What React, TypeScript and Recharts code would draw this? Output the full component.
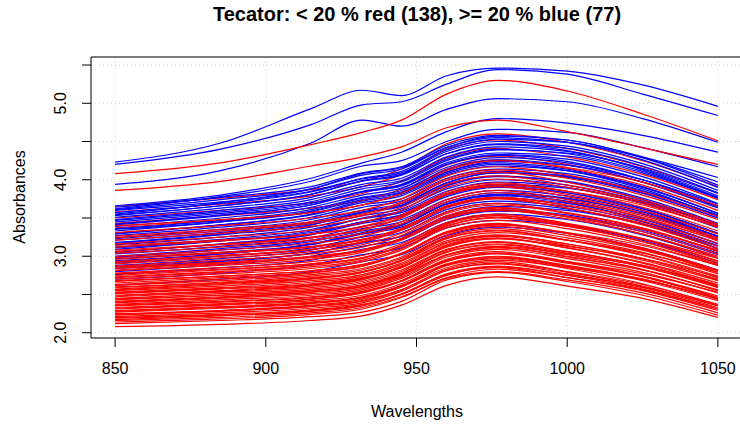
import React from "react";
import { LineChart, Line, XAxis, YAxis, CartesianGrid, ReferenceArea } from "recharts";

const wavelengths = [850, 885, 915, 932, 945, 960, 977, 1000, 1025, 1050];

// fat < 20 %
const redCurves: number[][] = [
  [2.08, 2.11, 2.16, 2.22, 2.36, 2.62, 2.73, 2.61, 2.45, 2.2],
  [2.14, 2.18, 2.24, 2.31, 2.46, 2.71, 2.8, 2.69, 2.52, 2.26],
  [2.17, 2.22, 2.28, 2.35, 2.5, 2.77, 2.87, 2.75, 2.57, 2.31],
  [2.19, 2.23, 2.29, 2.36, 2.51, 2.76, 2.85, 2.72, 2.55, 2.29],
  [2.21, 2.26, 2.32, 2.39, 2.54, 2.81, 2.91, 2.79, 2.61, 2.35],
  [2.23, 2.28, 2.34, 2.41, 2.56, 2.83, 2.93, 2.8, 2.63, 2.37],
  [2.25, 2.29, 2.35, 2.42, 2.56, 2.82, 2.9, 2.77, 2.59, 2.33],
  [2.27, 2.32, 2.38, 2.46, 2.61, 2.88, 2.98, 2.86, 2.68, 2.42],
  [2.29, 2.34, 2.4, 2.47, 2.62, 2.89, 2.99, 2.87, 2.7, 2.44],
  [2.31, 2.36, 2.42, 2.49, 2.64, 2.9, 3.0, 2.88, 2.7, 2.44],
  [2.33, 2.38, 2.44, 2.52, 2.67, 2.94, 3.04, 2.92, 2.74, 2.48],
  [2.35, 2.4, 2.46, 2.53, 2.68, 2.95, 3.04, 2.91, 2.73, 2.46],
  [2.37, 2.43, 2.49, 2.56, 2.71, 2.99, 3.09, 2.97, 2.79, 2.52],
  [2.39, 2.45, 2.51, 2.58, 2.73, 3.01, 3.11, 2.99, 2.82, 2.56],
  [2.41, 2.47, 2.53, 2.6, 2.75, 3.02, 3.12, 3.0, 2.82, 2.55],
  [2.43, 2.49, 2.55, 2.63, 2.78, 3.06, 3.16, 3.04, 2.86, 2.59],
  [2.45, 2.51, 2.57, 2.65, 2.8, 3.08, 3.18, 3.06, 2.88, 2.61],
  [2.47, 2.53, 2.59, 2.67, 2.82, 3.09, 3.19, 3.06, 2.88, 2.6],
  [2.49, 2.55, 2.62, 2.7, 2.85, 3.13, 3.23, 3.11, 2.92, 2.65],
  [2.51, 2.57, 2.63, 2.71, 2.87, 3.15, 3.26, 3.14, 2.95, 2.68],
  [2.53, 2.59, 2.66, 2.74, 2.89, 3.17, 3.27, 3.16, 2.97, 2.69],
  [2.55, 2.61, 2.68, 2.76, 2.91, 3.18, 3.28, 3.16, 2.97, 2.7],
  [2.57, 2.64, 2.71, 2.79, 2.94, 3.23, 3.33, 3.21, 3.02, 2.74],
  [2.6, 2.66, 2.74, 2.82, 2.97, 3.25, 3.36, 3.24, 3.05, 2.77],
  [2.62, 2.68, 2.76, 2.84, 2.99, 3.28, 3.39, 3.27, 3.08, 2.81],
  [2.65, 2.72, 2.79, 2.87, 3.03, 3.31, 3.41, 3.3, 3.11, 2.82],
  [2.67, 2.74, 2.81, 2.89, 3.04, 3.32, 3.42, 3.3, 3.1, 2.81],
  [2.7, 2.77, 2.84, 2.93, 3.08, 3.37, 3.47, 3.36, 3.16, 2.88],
  [2.72, 2.79, 2.86, 2.95, 3.1, 3.39, 3.5, 3.39, 3.19, 2.91],
  [2.75, 2.82, 2.9, 2.98, 3.14, 3.42, 3.53, 3.42, 3.22, 2.93],
  [2.78, 2.85, 2.93, 3.01, 3.16, 3.44, 3.55, 3.43, 3.23, 2.94],
  [2.81, 2.88, 2.96, 3.05, 3.21, 3.49, 3.6, 3.49, 3.29, 3.0],
  [2.84, 2.91, 2.99, 3.08, 3.23, 3.52, 3.63, 3.52, 3.32, 3.03],
  [2.87, 2.95, 3.03, 3.12, 3.27, 3.56, 3.67, 3.56, 3.36, 3.06],
  [2.9, 2.98, 3.06, 3.15, 3.3, 3.58, 3.69, 3.57, 3.37, 3.07],
  [2.93, 3.01, 3.09, 3.18, 3.34, 3.63, 3.75, 3.63, 3.43, 3.13],
  [2.96, 3.04, 3.12, 3.21, 3.36, 3.66, 3.77, 3.66, 3.46, 3.17],
  [3.0, 3.08, 3.17, 3.26, 3.42, 3.71, 3.83, 3.71, 3.51, 3.2],
  [3.04, 3.12, 3.21, 3.3, 3.45, 3.74, 3.86, 3.74, 3.53, 3.22],
  [3.08, 3.16, 3.25, 3.35, 3.51, 3.81, 3.92, 3.81, 3.6, 3.29],
  [3.12, 3.2, 3.29, 3.39, 3.54, 3.84, 3.96, 3.85, 3.64, 3.33],
  [3.16, 3.25, 3.34, 3.44, 3.6, 3.9, 4.01, 3.9, 3.69, 3.38],
  [3.21, 3.3, 3.39, 3.49, 3.64, 3.94, 4.05, 3.93, 3.71, 3.4],
  [3.26, 3.35, 3.45, 3.55, 3.71, 4.01, 4.13, 4.02, 3.8, 3.48],
  [3.31, 3.4, 3.5, 3.6, 3.75, 4.05, 4.17, 4.06, 3.84, 3.52],
  [3.37, 3.47, 3.57, 3.67, 3.83, 4.14, 4.26, 4.15, 3.93, 3.6],
  [3.43, 3.53, 3.63, 3.73, 3.88, 4.19, 4.31, 4.2, 3.97, 3.65],
  [3.5, 3.6, 3.7, 3.82, 3.98, 4.29, 4.41, 4.3, 4.07, 3.74],
  [3.58, 3.68, 3.79, 3.91, 4.07, 4.4, 4.52, 4.41, 4.17, 3.83],
  [3.65, 3.76, 3.87, 3.98, 4.14, 4.47, 4.6, 4.49, 4.25, 3.91],
  [2.12, 2.16, 2.21, 2.27, 2.41, 2.69, 2.79, 2.67, 2.49, 2.23],
  [2.16, 2.2, 2.26, 2.33, 2.47, 2.72, 2.83, 2.72, 2.56, 2.31],
  [2.2, 2.24, 2.3, 2.37, 2.5, 2.75, 2.86, 2.76, 2.6, 2.36],
  [2.24, 2.29, 2.36, 2.44, 2.6, 2.88, 2.97, 2.84, 2.64, 2.36],
  [2.28, 2.33, 2.39, 2.46, 2.6, 2.85, 2.95, 2.85, 2.69, 2.45],
  [2.32, 2.37, 2.44, 2.52, 2.68, 2.96, 3.06, 2.93, 2.74, 2.46],
  [2.36, 2.41, 2.47, 2.54, 2.68, 2.93, 3.03, 2.93, 2.77, 2.53],
  [2.4, 2.46, 2.53, 2.61, 2.77, 3.05, 3.15, 3.02, 2.83, 2.55],
  [2.44, 2.49, 2.55, 2.62, 2.76, 3.02, 3.13, 3.03, 2.87, 2.63],
  [2.48, 2.54, 2.61, 2.69, 2.85, 3.14, 3.24, 3.11, 2.91, 2.62],
  [2.52, 2.58, 2.64, 2.72, 2.86, 3.12, 3.23, 3.13, 2.97, 2.73],
  [2.56, 2.63, 2.7, 2.79, 2.95, 3.24, 3.34, 3.21, 3.01, 2.72],
  [2.59, 2.65, 2.72, 2.8, 2.94, 3.2, 3.31, 3.21, 3.04, 2.79],
  [2.63, 2.7, 2.78, 2.87, 3.03, 3.32, 3.43, 3.3, 3.09, 2.79],
  [2.68, 2.74, 2.81, 2.89, 3.03, 3.3, 3.41, 3.31, 3.14, 2.88],
  [2.73, 2.8, 2.88, 2.97, 3.13, 3.42, 3.53, 3.4, 3.19, 2.89],
  [2.77, 2.83, 2.9, 2.98, 3.13, 3.4, 3.51, 3.41, 3.23, 2.97],
  [2.82, 2.9, 2.98, 3.07, 3.23, 3.53, 3.64, 3.51, 3.29, 2.98],
  [2.86, 2.92, 3.0, 3.08, 3.23, 3.5, 3.61, 3.52, 3.35, 3.08],
  [2.92, 3.0, 3.09, 3.19, 3.35, 3.65, 3.76, 3.63, 3.41, 3.1],
  [2.98, 3.05, 3.13, 3.22, 3.37, 3.65, 3.77, 3.67, 3.49, 3.21],
  [3.06, 3.15, 3.24, 3.34, 3.5, 3.8, 3.91, 3.78, 3.56, 3.24],
  [3.14, 3.21, 3.29, 3.38, 3.53, 3.82, 3.94, 3.85, 3.67, 3.38],
  [3.24, 3.33, 3.43, 3.53, 3.69, 3.99, 4.1, 3.97, 3.74, 3.42],
  [3.4, 3.48, 3.57, 3.67, 3.82, 4.12, 4.25, 4.16, 3.97, 3.66],
  [3.86, 3.98, 4.18, 4.3, 4.43, 4.68, 4.78, 4.63, 4.42, 4.2],
  [4.08, 4.22, 4.46, 4.62, 4.78, 5.12, 5.3, 5.16, 4.86, 4.51],
];

// fat >= 20 %
const blueCurves: number[][] = [
  [2.62, 2.7, 2.8, 2.93, 3.02, 3.27, 3.38, 3.3, 3.11, 2.82],
  [2.7, 2.78, 2.89, 3.02, 3.11, 3.37, 3.47, 3.4, 3.21, 2.91],
  [2.76, 2.85, 2.95, 3.09, 3.18, 3.44, 3.55, 3.48, 3.28, 2.98],
  [2.8, 2.89, 3.0, 3.13, 3.22, 3.48, 3.59, 3.52, 3.32, 3.02],
  [2.84, 2.93, 3.04, 3.18, 3.26, 3.51, 3.61, 3.54, 3.34, 3.04],
  [2.86, 2.94, 3.04, 3.17, 3.26, 3.53, 3.65, 3.6, 3.42, 3.13],
  [2.88, 2.97, 3.08, 3.22, 3.31, 3.58, 3.69, 3.62, 3.42, 3.1],
  [2.91, 3.0, 3.11, 3.25, 3.34, 3.61, 3.72, 3.65, 3.45, 3.14],
  [2.93, 3.03, 3.16, 3.31, 3.41, 3.68, 3.79, 3.7, 3.46, 3.1],
  [2.94, 3.03, 3.15, 3.29, 3.38, 3.64, 3.76, 3.69, 3.48, 3.17],
  [2.97, 3.05, 3.16, 3.3, 3.4, 3.68, 3.8, 3.72, 3.5, 3.16],
  [2.99, 3.08, 3.19, 3.33, 3.42, 3.69, 3.81, 3.75, 3.56, 3.26],
  [3.0, 3.1, 3.21, 3.36, 3.45, 3.71, 3.83, 3.76, 3.55, 3.23],
  [3.03, 3.13, 3.24, 3.39, 3.48, 3.74, 3.86, 3.79, 3.58, 3.26],
  [3.05, 3.16, 3.29, 3.45, 3.54, 3.8, 3.91, 3.83, 3.6, 3.26],
  [3.06, 3.16, 3.28, 3.43, 3.52, 3.78, 3.9, 3.83, 3.62, 3.3],
  [3.09, 3.2, 3.33, 3.49, 3.57, 3.82, 3.93, 3.85, 3.63, 3.3],
  [3.11, 3.2, 3.31, 3.45, 3.54, 3.81, 3.94, 3.89, 3.7, 3.41],
  [3.12, 3.22, 3.35, 3.5, 3.59, 3.85, 3.97, 3.9, 3.69, 3.37],
  [3.15, 3.25, 3.38, 3.53, 3.62, 3.88, 4.0, 3.93, 3.72, 3.4],
  [3.17, 3.28, 3.41, 3.57, 3.66, 3.93, 4.05, 3.97, 3.74, 3.39],
  [3.18, 3.29, 3.41, 3.57, 3.65, 3.92, 4.04, 3.98, 3.76, 3.43],
  [3.21, 3.31, 3.43, 3.58, 3.67, 3.96, 4.09, 4.03, 3.82, 3.5],
  [3.23, 3.33, 3.45, 3.6, 3.69, 3.96, 4.09, 4.04, 3.85, 3.54],
  [3.24, 3.35, 3.48, 3.64, 3.72, 3.99, 4.11, 4.05, 3.83, 3.5],
  [3.27, 3.38, 3.51, 3.67, 3.75, 4.02, 4.14, 4.08, 3.86, 3.53],
  [3.29, 3.41, 3.55, 3.72, 3.81, 4.08, 4.2, 4.12, 3.88, 3.52],
  [3.3, 3.41, 3.54, 3.7, 3.79, 4.06, 4.18, 4.12, 3.9, 3.56],
  [3.33, 3.45, 3.59, 3.76, 3.84, 4.1, 4.22, 4.14, 3.91, 3.56],
  [3.35, 3.45, 3.58, 3.74, 3.83, 4.1, 4.24, 4.19, 4.0, 3.68],
  [3.36, 3.47, 3.61, 3.77, 3.86, 4.13, 4.26, 4.19, 3.97, 3.63],
  [3.39, 3.5, 3.64, 3.8, 3.89, 4.16, 4.29, 4.22, 4.0, 3.66],
  [3.41, 3.53, 3.67, 3.84, 3.93, 4.2, 4.32, 4.24, 4.0, 3.64],
  [3.42, 3.54, 3.67, 3.84, 3.92, 4.2, 4.33, 4.27, 4.04, 3.69],
  [3.45, 3.56, 3.69, 3.85, 3.94, 4.22, 4.35, 4.31, 4.09, 3.76],
  [3.47, 3.58, 3.71, 3.88, 3.97, 4.25, 4.39, 4.35, 4.15, 3.82],
  [3.48, 3.6, 3.74, 3.91, 3.99, 4.27, 4.4, 4.34, 4.11, 3.76],
  [3.51, 3.63, 3.77, 3.94, 4.02, 4.3, 4.43, 4.37, 4.14, 3.79],
  [3.53, 3.66, 3.81, 3.99, 4.07, 4.34, 4.46, 4.38, 4.13, 3.77],
  [3.54, 3.66, 3.81, 3.98, 4.06, 4.34, 4.47, 4.41, 4.18, 3.83],
  [3.57, 3.69, 3.84, 4.01, 4.09, 4.37, 4.5, 4.44, 4.21, 3.86],
  [3.6, 3.71, 3.85, 4.02, 4.11, 4.39, 4.53, 4.49, 4.29, 3.97],
  [3.61, 3.74, 3.88, 4.06, 4.14, 4.42, 4.55, 4.49, 4.26, 3.9],
  [3.64, 3.77, 3.91, 4.09, 4.17, 4.45, 4.58, 4.52, 4.29, 3.93],
  [3.55, 3.7, 3.88, 4.08, 4.16, 4.42, 4.57, 4.52, 4.3, 4.03],
  [3.62, 3.78, 3.98, 4.18, 4.25, 4.5, 4.66, 4.62, 4.42, 4.17],
  [3.66, 3.8, 4.02, 4.22, 4.36, 4.63, 4.8, 4.74, 4.58, 4.36],
  [3.94, 4.12, 4.48, 4.78, 4.7, 4.92, 5.06, 5.02, 4.8, 4.49],
  [4.2, 4.4, 4.72, 4.98, 5.02, 5.25, 5.44, 5.38, 5.12, 4.84],
  [4.23, 4.48, 4.93, 5.17, 5.1, 5.36, 5.46, 5.42, 5.24, 4.96],
];

const xTicks = [850, 900, 950, 1000, 1050];
const yTicks = [2, 2.5, 3, 3.5, 4, 4.5, 5, 5.5];

const chartData = wavelengths.map((wl, i) => {
  const row: Record<string, number> = { wl };
  redCurves.forEach((c, j) => (row[`r${j}`] = c[i]));
  blueCurves.forEach((c, j) => (row[`b${j}`] = c[i]));
  return row;
});

// spread the blue curves evenly through the red ones in drawing order
const series: { key: string; color: string }[] = [];
let bi = 0;
redCurves.forEach((_, i) => {
  series.push({ key: `r${i}`, color: "#ff0000" });
  while (bi < blueCurves.length && (bi + 1) / blueCurves.length <= (i + 1) / redCurves.length) {
    series.push({ key: `b${bi}`, color: "#0000ff" });
    bi++;
  }
});
while (bi < blueCurves.length) series.push({ key: `b${bi++}`, color: "#0000ff" });

const FONT = "'Liberation Sans', Arial, Helvetica, sans-serif";

const XTick = (props: any) => (
  <text x={props.x} y={374} textAnchor="middle" fontSize={16} fill="#000">
    {props.payload.value}
  </text>
);

const YTick = (props: any) => {
  const v = props.payload.value;
  if (v % 1 !== 0) return <g />;
  return (
    <text transform={`translate(66, ${props.y}) rotate(-90)`} textAnchor="middle" fontSize={16} fill="#000">
      {v.toFixed(1)}
    </text>
  );
};

const App = () => {
  return (
    <div
      style={{
        position: "absolute",
        left: 0,
        top: 0,
        width: 740,
        height: 427,
        overflow: "hidden",
        background: "#fff",
        fontFamily: FONT,
      }}
    >
      <LineChart width={744} height={427} data={chartData} margin={{ top: 57, right: 2, bottom: 0, left: 0 }}>
        <CartesianGrid stroke="#d3d3d3" strokeDasharray="1 3" />
        <XAxis
          dataKey="wl"
          type="number"
          domain={[842, 1058]}
          ticks={xTicks}
          allowDataOverflow
          height={89}
          tickSize={9}
          tickLine={{ stroke: "#000" }}
          axisLine={false}
          tick={<XTick />}
        />
        <YAxis
          type="number"
          domain={[1.931, 5.605]}
          ticks={yTicks}
          allowDataOverflow
          width={91}
          tickSize={9}
          tickLine={{ stroke: "#000" }}
          axisLine={false}
          tick={<YTick />}
        />
        {series.map((s) => (
          <Line
            key={s.key}
            dataKey={s.key}
            type="monotone"
            stroke={s.color}
            strokeWidth={1.2}
            dot={false}
            activeDot={false}
            isAnimationActive={false}
          />
        ))}
        <ReferenceArea x1={842} x2={1058} y1={1.931} y2={5.605} fill="none" stroke="#000" strokeWidth={1} ifOverflow="visible" />
      </LineChart>
      <svg width={740} height={427} style={{ position: "absolute", left: 0, top: 0, pointerEvents: "none" }}>
        <text x={417} y={21} textAnchor="middle" fontSize={20} fontWeight="bold" fill="#000">
          Tecator: &lt; 20 % red (138), &gt;= 20 % blue (77)
        </text>
        <text x={417} y={417} textAnchor="middle" fontSize={16} fill="#000">
          Wavelengths
        </text>
        <text transform="translate(25, 197) rotate(-90)" textAnchor="middle" fontSize={16} fill="#000">
          Absorbances
        </text>
      </svg>
    </div>
  );
};

export default App;
